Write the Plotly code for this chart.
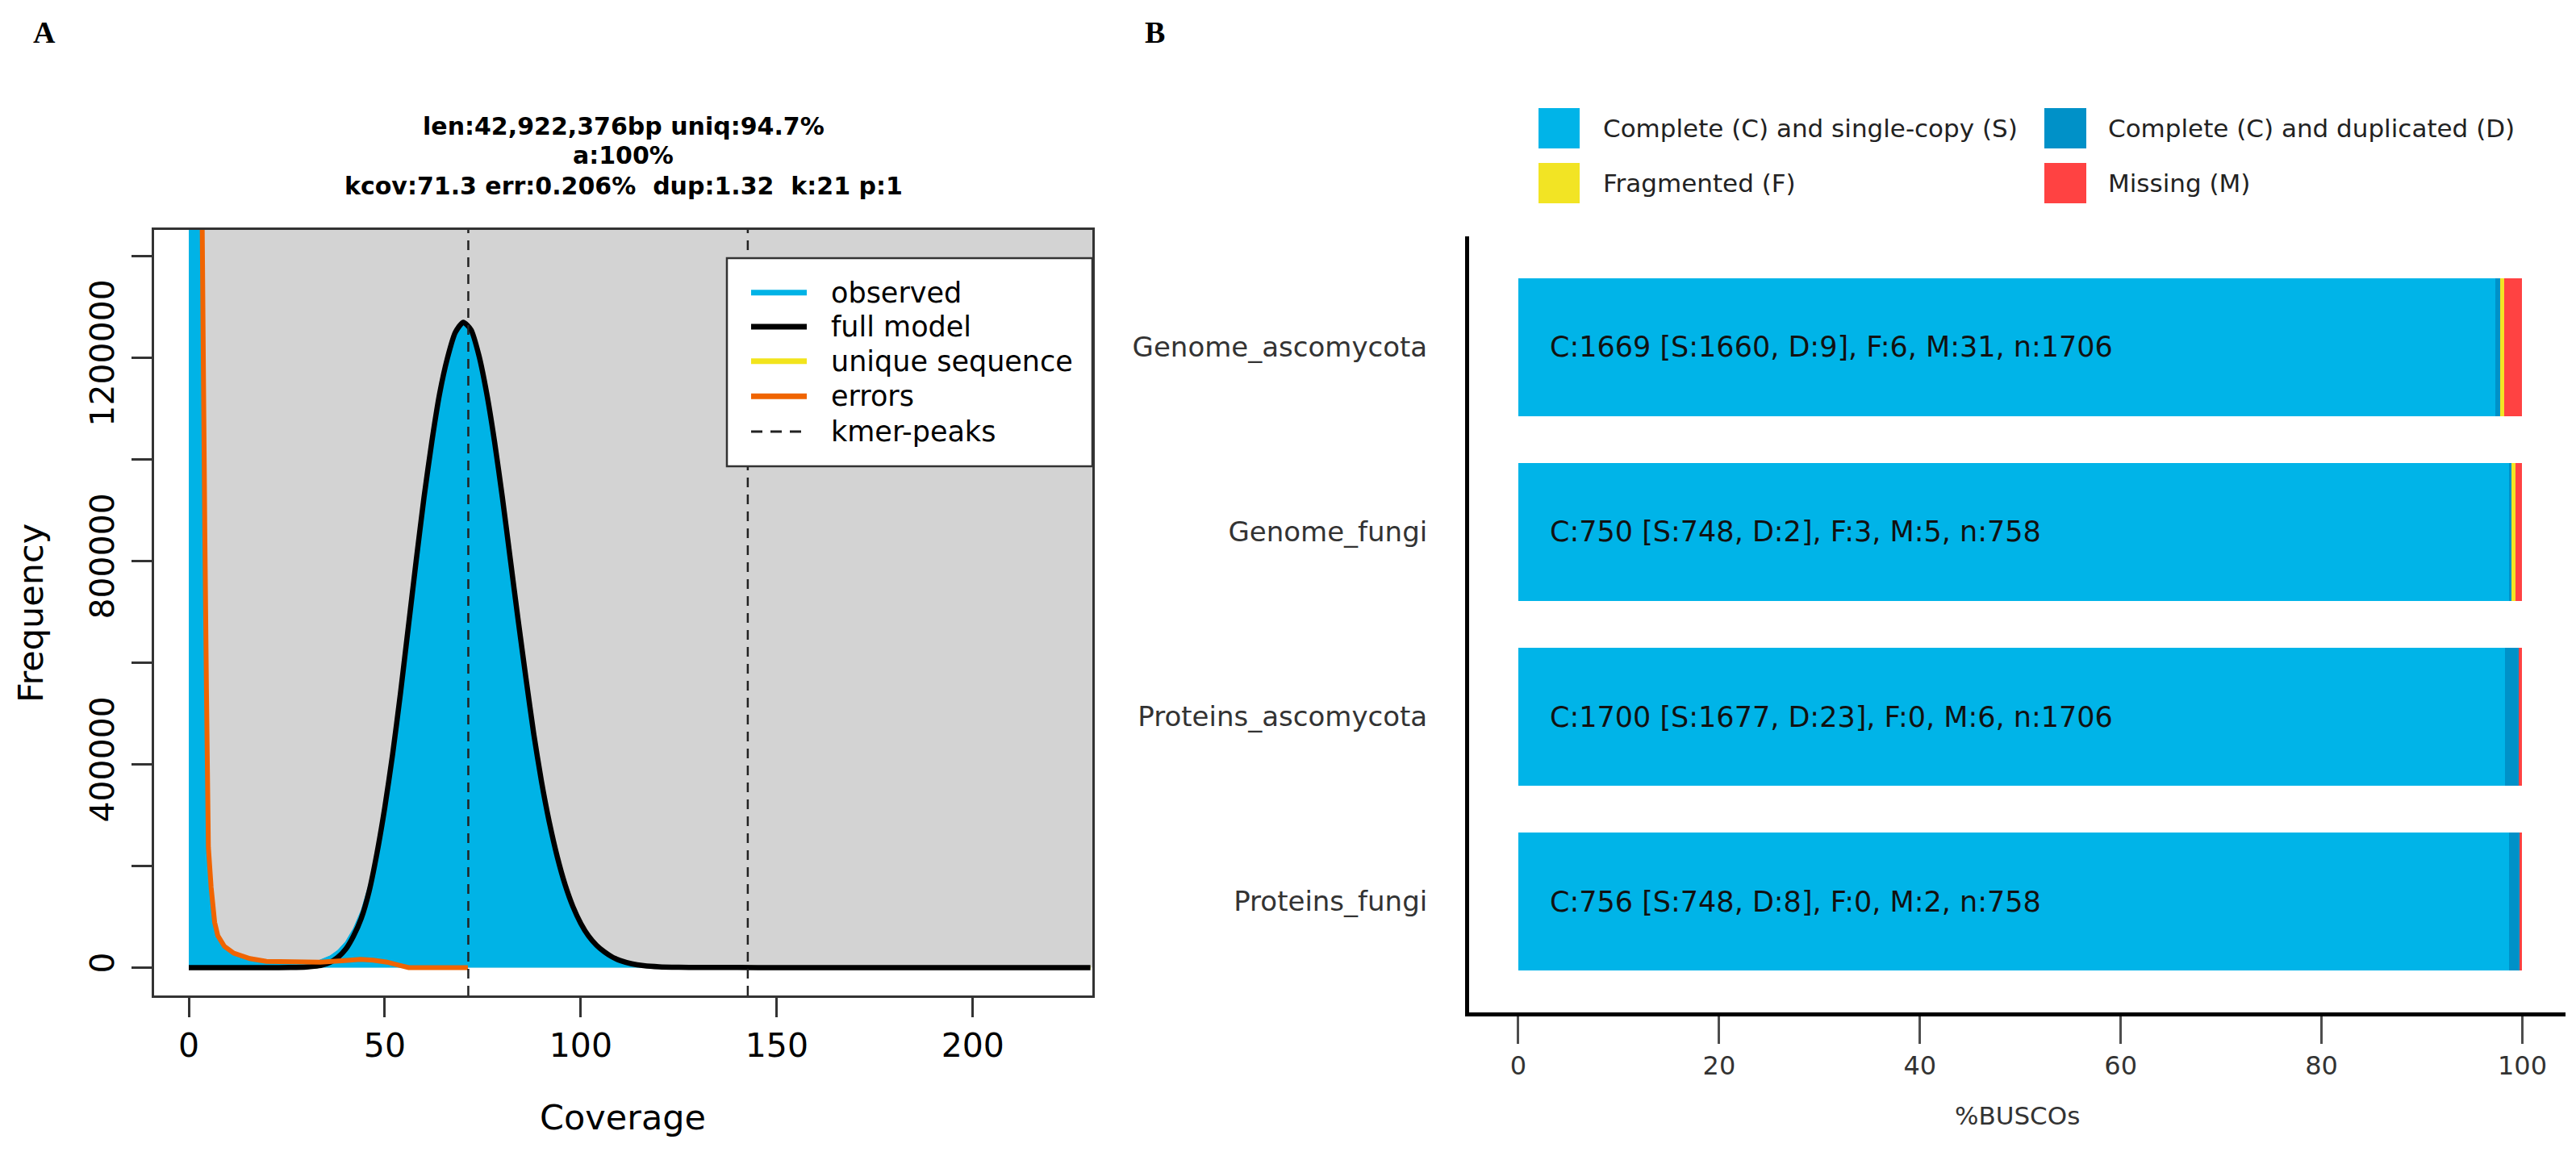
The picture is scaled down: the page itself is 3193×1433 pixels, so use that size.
import plotly.graph_objects as go

# ---------------- Panel A: GenomeScope k-mer profile ----------------
cov_obs = [0, 1, 2, 2.6, 3.3, 3.7, 4.1, 4.5, 4.8, 5.0,
           5.7, 6.6, 7.4, 9.1, 11.5, 15.6, 19.8, 26, 30, 33,
           36, 38, 40, 42, 44, 46, 48, 50, 52, 54,
           56, 58, 60, 62, 64, 66, 68, 70, 72, 74,
           76, 78, 80, 82, 84, 86, 88, 90, 92, 94,
           96, 98, 100, 102, 104, 106, 108, 110, 113, 116,
           120, 125, 130, 140, 150, 170, 200, 230]
freq_obs = [20000000, 20000000, 8000000, 2250000, 1470000, 1160000, 860000, 560000, 325000, 242000,
            162000, 92000, 66000, 44000, 30000, 19000, 13000, 11500, 11800, 13500,
            23000, 34000, 51000, 77000, 113000, 165000, 237000, 326000, 427000, 544000,
            672000, 800000, 925000, 1035000, 1130000, 1200000, 1250000, 1270000, 1255000, 1205000,
            1130000, 1035000, 925000, 805000, 685000, 570000, 460000, 365000, 285000, 218000,
            163000, 120000, 87000, 62000, 44000, 31000, 21000, 14000, 7500, 3800,
            1500, 600, 300, 200, 100, 50, 0, 0]

cov_model = [0, 5, 10, 15, 20, 26, 30, 32, 34, 36,
             38, 40, 42, 44, 46, 48, 50, 52, 54, 56,
             58, 60, 62, 64, 66, 68, 70, 72, 74, 76,
             78, 80, 82, 84, 86, 88, 90, 92, 94, 96,
             98, 100, 102, 104, 106, 108, 110, 113, 116, 120,
             125, 130, 140, 150, 170, 200, 230]
freq_model = [0, 0, 0, 0, 0, 200, 1000, 2500, 5000, 10000,
              20000, 36000, 62000, 97000, 150000, 225000, 315000, 420000, 540000, 670000,
              800000, 925000, 1035000, 1130000, 1200000, 1250000, 1270000, 1255000, 1205000, 1130000,
              1035000, 925000, 805000, 685000, 570000, 460000, 365000, 285000, 218000, 163000,
              120000, 87000, 62000, 44000, 31000, 21000, 14000, 7500, 3800, 1500,
              600, 300, 200, 100, 50, 0, 0]

cov_err = [2.6, 3.3, 3.7, 4.1, 4.5, 4.8, 5.0, 5.7, 6.6, 7.4,
           9.1, 11.5, 15.6, 19.8, 26, 33.5, 39, 43.8, 47, 50.6,
           53.5, 56.1, 60, 65, 71.2]
freq_err = [2200000, 1460000, 1150000, 850000, 550000, 317000, 237000, 158000, 89000, 63000,
            41600, 28300, 17700, 12400, 10800, 10800, 13500, 16100, 14500, 10800,
            5000, 0, 0, 0, 0]

kmer_peaks = [71.3, 142.6]
a_x_ticks = [0, 50, 100, 150, 200]
a_y_ticks = [0, 200000, 400000, 600000, 800000, 1000000, 1200000, 1400000]
a_y_ticklabels = ["0", "", "400000", "", "800000", "", "1200000", ""]
a_title_lines = ["len:42,922,376bp uniq:94.7%",
                 "a:100%",
                 "kcov:71.3 err:0.206%\u00a0 dup:1.32\u00a0 k:21 p:1"]
a_legend_labels = ["observed", "full model", "unique sequence", "errors", "kmer-peaks"]

# ---------------- Panel B: BUSCO ----------------
busco_sets = ["Genome_ascomycota", "Genome_fungi", "Proteins_ascomycota", "Proteins_fungi"]
pct_single = [97.30, 98.68, 98.30, 98.68]
pct_dup = [0.53, 0.26, 1.35, 1.06]
pct_frag = [0.35, 0.40, 0.00, 0.00]
pct_missing = [1.82, 0.66, 0.35, 0.26]
busco_text = ["C:1669 [S:1660, D:9], F:6, M:31, n:1706",
              "C:750 [S:748, D:2], F:3, M:5, n:758",
              "C:1700 [S:1677, D:23], F:0, M:6, n:1706",
              "C:756 [S:748, D:8], F:0, M:2, n:758"]
busco_legend = ["Complete (C) and single-copy (S)", "Complete (C) and duplicated (D)",
                "Fragmented (F)", "Missing (M)"]
b_x_ticks = [0, 20, 40, 60, 80, 100]

# ---------------- styling / geometry ----------------
FONT = "DejaVu Sans"
FW, FH, OFF = 3177, 1417, 8
C_OBS = "#00B3E6"
C_ERR = "#F06400"
C_UNIQ = "#F2E41C"
C_S = "#00B4E8"
C_D = "#0091C8"
C_F = "#F2E424"
C_M = "#FF4242"


def px(sx):
    return (sx - OFF) / FW


def py(sy):
    return 1 - (sy - OFF) / FH


fig = go.Figure()

# Panel A traces
fig.add_trace(go.Scatter(x=cov_obs, y=freq_obs, mode="lines", fill="tozeroy",
                         fillcolor=C_OBS, line=dict(color=C_OBS, width=1),
                         name="observed", xaxis="x", yaxis="y", hoverinfo="skip"))
fig.add_trace(go.Scatter(x=cov_model, y=freq_model, mode="lines",
                         line=dict(color=C_UNIQ, width=5, shape="spline", smoothing=0.6),
                         name="unique sequence", xaxis="x", yaxis="y"))
fig.add_trace(go.Scatter(x=cov_model, y=freq_model, mode="lines",
                         line=dict(color="black", width=6.5, shape="spline", smoothing=0.6),
                         name="full model", xaxis="x", yaxis="y"))
fig.add_trace(go.Scatter(x=cov_err, y=freq_err, mode="lines",
                         line=dict(color=C_ERR, width=6),
                         name="errors", xaxis="x", yaxis="y"))

# Panel B traces
for nm, vals, col in zip(busco_legend, [pct_single, pct_dup, pct_frag, pct_missing],
                         [C_S, C_D, C_F, C_M]):
    fig.add_trace(go.Bar(y=busco_sets, x=vals, orientation="h", width=0.75,
                         marker=dict(color=col, line=dict(width=0)),
                         name=nm, xaxis="x2", yaxis="y2"))

A_XR = [-8.85, 230.5]
A_YR = [-54800, 1451600]

shapes = []
# grey panel background
shapes.append(dict(type="rect", xref="x", yref="y", x0=0, x1=A_XR[1], y0=0, y1=A_YR[1],
                   fillcolor="#D3D3D3", line=dict(width=0), layer="below"))
# kmer peaks
for kp in kmer_peaks:
    shapes.append(dict(type="line", xref="x", yref="y domain", x0=kp, x1=kp, y0=0, y1=1,
                       line=dict(color="#222", width=2.5, dash="12px,9px"), layer="above"))
# legend A box
shapes.append(dict(type="rect", xref="paper", yref="paper", x0=px(901), x1=px(1354),
                   y0=py(578), y1=py(320), fillcolor="white",
                   line=dict(color="#333", width=2.5), layer="above"))
leg_y = [362.7, 405, 447.7, 491.3, 535]
leg_style = [dict(color=C_OBS, width=7), dict(color="black", width=7),
             dict(color=C_UNIQ, width=7), dict(color=C_ERR, width=7),
             dict(color="#222", width=3, dash="14px,10px")]
annotations = []
for lab, yy, st in zip(a_legend_labels, leg_y, leg_style):
    shapes.append(dict(type="line", xref="paper", yref="paper", x0=px(931), x1=px(1000),
                       y0=py(yy), y1=py(yy), line=st, layer="above"))
    annotations.append(dict(text=lab, xref="paper", yref="paper", x=px(1028), y=py(yy),
                            xanchor="left", yanchor="middle", showarrow=False,
                            font=dict(family=FONT, size=35, color="black")))

# legend B
sq_x = [(1907, 1958), (2534, 2586), (1907, 1958), (2534, 2586)]
sq_y = [(134, 184), (134, 184), (202, 252), (202, 252)]
txt_x = [1985, 2611, 1985, 2611]
for lab, col, (x0, x1), (y0, y1), tx in zip(busco_legend, [C_S, C_D, C_F, C_M], sq_x, sq_y, txt_x):
    shapes.append(dict(type="rect", xref="paper", yref="paper", x0=px(x0), x1=px(x1),
                       y0=py(y1), y1=py(y0), fillcolor=col, line=dict(width=0)))
    annotations.append(dict(text=lab, xref="paper", yref="paper", x=px(tx), y=py((y0 + y1) / 2),
                            xanchor="left", yanchor="middle", showarrow=False,
                            font=dict(family=FONT, size=31, color="#222")))

# bar texts
for cat, t in zip(busco_sets, busco_text):
    annotations.append(dict(text=t, xref="x2", yref="y2", x=3.0, y=cat, xanchor="left",
                            yanchor="middle", showarrow=False,
                            font=dict(family=FONT, size=35, color="#111")))

# panel labels
annotations.append(dict(text="A", xref="paper", yref="paper", x=px(55), y=py(40),
                        showarrow=False, xanchor="center", yanchor="middle",
                        font=dict(family="Liberation Serif", size=38, color="black", weight="bold")))
annotations.append(dict(text="B", xref="paper", yref="paper", x=px(1431), y=py(40),
                        showarrow=False, xanchor="center", yanchor="middle",
                        font=dict(family="Liberation Serif", size=38, color="black", weight="bold")))
# panel A title
for line, yy in zip(a_title_lines, [156, 193, 230]):
    annotations.append(dict(text=line, xref="paper", yref="paper", x=px(772.5), y=py(yy),
                            showarrow=False, xanchor="center", yanchor="middle",
                            font=dict(family=FONT, size=30, color="black", weight="bold")))
# axis titles
annotations.append(dict(text="Coverage", xref="paper", yref="paper", x=px(772), y=py(1385),
                        showarrow=False, xanchor="center", yanchor="middle",
                        font=dict(family=FONT, size=43, color="black")))
annotations.append(dict(text="Frequency", xref="paper", yref="paper", x=px(38), y=py(760),
                        showarrow=False, xanchor="center", yanchor="middle", textangle=-90,
                        font=dict(family=FONT, size=43, color="black")))
annotations.append(dict(text="%BUSCOs", xref="paper", yref="paper", x=px(2500), y=py(1383),
                        showarrow=False, xanchor="center", yanchor="middle",
                        font=dict(family=FONT, size=31, color="#333")))

fig.update_layout(
    width=FW, height=FH, margin=dict(l=0, r=0, t=0, b=0),
    paper_bgcolor="white", plot_bgcolor="white",
    barmode="stack", showlegend=False,
    shapes=shapes, annotations=annotations,
    xaxis=dict(domain=[px(191), px(1354)], range=A_XR, tickvals=a_x_ticks,
               ticks="outside", ticklen=24, tickwidth=2.5, tickcolor="#333",
               showline=True, mirror=True, linecolor="#333", linewidth=2.5,
               showgrid=False, zeroline=False, anchor="y",
               tickfont=dict(family=FONT, size=41, color="black")),
    yaxis=dict(domain=[py(1234), py(285)], range=A_YR, tickvals=a_y_ticks,
               ticktext=a_y_ticklabels, tickangle=-90,
               ticks="outside", ticklen=25, tickwidth=2.5, tickcolor="#333",
               showline=True, mirror=True, linecolor="#333", linewidth=2.5,
               showgrid=False, zeroline=False, anchor="x", ticklabelstandoff=6,
               tickfont=dict(family=FONT, size=41, color="black")),
    xaxis2=dict(domain=[px(1821), px(3180)], range=[-4.9, 104.3], tickvals=b_x_ticks,
                ticks="outside", ticklen=34, tickwidth=2.5, tickcolor="#4d4d4d",
                showline=True, linecolor="black", linewidth=5,
                showgrid=False, zeroline=False, anchor="y2",
                tickfont=dict(family=FONT, size=32, color="#333")),
    yaxis2=dict(domain=[py(1255), py(293)], type="category", categoryorder="array",
                categoryarray=busco_sets, range=[3.6, -0.6],
                showline=True, linecolor="black", linewidth=5, ticks="",
                showgrid=False, zeroline=False, anchor="x2", ticklabelstandoff=40,
                tickfont=dict(family=FONT, size=34, color="#333")),
)

fig.write_html("out.html")
